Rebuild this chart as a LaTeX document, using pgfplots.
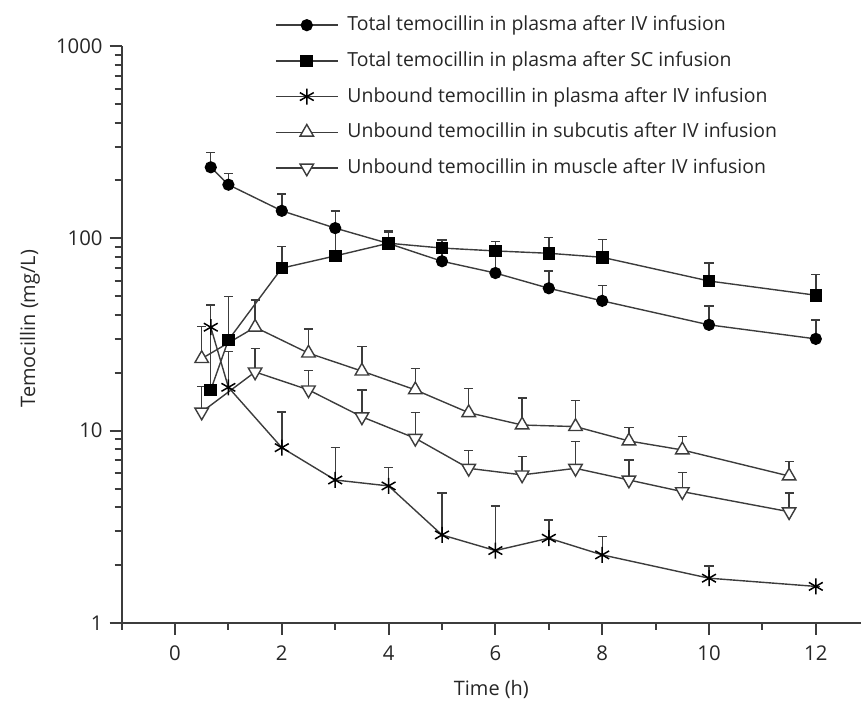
\documentclass[border=0pt]{standalone}
\usepackage{fontspec}
\setmainfont{Open Sans}
\usepackage{pgfplots}
\pgfplotsset{compat=1.18}
\usepackage{pgfplotstable}
\definecolor{ln}{HTML}{3C3C3C}
\definecolor{tx}{HTML}{262626}

\pgfplotstableread{
x y e
0.67 234 45
1 190 28
2 139 31
3 113 26
4 94 14
5 76 16
6 66 20
7 55 12.7
8 47.3 9.5
10 35.5 9
12 30 7.6
}\totiv
\pgfplotstableread{
x y e
0.67 16.3 28.7
1 29.6 20.2
2 70 21
3 81 29
4 94.3 15.7
5 89 9
6 86 10
7 83.6 17.4
8 79.7 18.8
10 60 14.3
12 50.6 14.4
}\totsc
\pgfplotstableread{
x y e
0.67 34.5 10.5
1 16.8 9
2 8.16 4.34
3 5.54 2.62
4 5.16 1.29
5 2.87 1.86
6 2.38 1.68
7 2.76 0.67
8 2.26 0.55
10 1.71 0.27
12 1.55 0
}\unbpl
\pgfplotstableread{
x y e
0.5 23.7 11
1.5 34.5 13.4
2.5 25.3 8.4
3.5 20.4 6.9
4.5 16.3 4.8
5.5 12.4 4.2
6.5 10.7 4.1
7.5 10.5 3.9
8.5 8.84 1.56
9.5 7.94 1.36
11.5 5.81 1.09
}\unbsc
\pgfplotstableread{
x y e
0.5 12.5 4.5
1.5 20.2 6.6
2.5 16.3 4.2
3.5 11.8 4.5
4.5 9.13 3.27
5.5 6.37 1.5
6.5 5.89 1.44
7.5 6.37 2.4
8.5 5.54 1.5
9.5 4.82 1.23
11.5 3.79 0.94
}\unbmu

\begin{document}
\begin{tikzpicture}
\useasboundingbox (-60.8bp,-43.5bp) rectangle (370.7bp,311.5bp);
\begin{axis}[
  at={(0,0)}, anchor=south west,
  scale only axis, width=369.8bp, height=288.5bp,
  xmin=-1, xmax=12.85, ymin=1, ymax=1000, ymode=log,
  axis lines*=left, axis line style={-, line width=1bp, ln},
  xtick={0,2,...,12}, minor xtick={-1,1,...,11},
  ytick={1,10,100,1000}, yticklabels={1,10,100,1000},
  tick align=outside, major tick length=6bp, minor tick length=3.5bp,
  tick style={line width=1bp, ln},
  /pgf/number format/assume math mode=true,
  tick label style={font=\fontsize{10.2}{12}\selectfont, text=tx},
  xticklabel style={yshift=-2bp},
  label style={font=\fontsize{10}{12}\selectfont, text=tx},
  xlabel={Time (h)}, ylabel={Temocillin (mg/L)},
  xlabel style={at={(axis description cs:0.5,-0.116)}, anchor=center},
  ylabel style={at={(axis description cs:-0.124,0.51)}, anchor=center},
  clip=false,
  legend style={at={(axis description cs:0.2070,1.0532)}, anchor=north west,
    draw=none, fill=none, inner sep=0pt, row sep=8.35bp,
    font=\fontsize{9.75}{12}\selectfont, text=tx,
    nodes={inner sep=0pt, text height=7.5bp, text depth=2bp},
    /tikz/every odd column/.append style={column sep=4.5bp}},
  legend cell align=left,
  legend image code/.code={\draw[mark repeat=2,mark phase=2] plot coordinates {(0bp,0bp) (15.5bp,0bp) (31bp,0bp)};},
  errs/.style={error bars/.cd, y dir=plus, y explicit,
    error bar style={line width=0.7bp, ln},
    error mark options={rotate=90, mark size=2.3bp, line width=0.7bp, ln}},
]
\addplot[ln, line width=0.7bp, mark=*, mark size=2.7bp, mark options={fill=black, draw=black}, errs]
  table[x=x, y=y, y error=e]{\totiv};
\addlegendentry{Total temocillin in plasma after IV infusion}
\addplot[ln, line width=0.7bp, mark=square*, mark size=2.8bp, mark options={fill=black, draw=black}, errs]
  table[x=x, y=y, y error=e]{\totsc};
\addlegendentry{Total temocillin in plasma after SC infusion}
\addplot[ln, line width=0.7bp, mark=asterisk, mark size=4bp, mark options={draw=black, line width=0.75bp}, errs]
  table[x=x, y=y, y error=e]{\unbpl};
\addlegendentry{Unbound temocillin in plasma after IV infusion}
\addplot[ln, line width=0.7bp, mark=triangle*, mark size=3.9bp, mark options={fill=white, draw=ln, line width=0.7bp}, errs]
  table[x=x, y=y, y error=e]{\unbsc};
\addlegendentry{Unbound temocillin in subcutis after IV infusion}
\addplot[ln, line width=0.7bp, mark=triangle*, mark size=3.9bp, mark options={fill=white, draw=ln, line width=0.7bp, rotate=180}, errs]
  table[x=x, y=y, y error=e]{\unbmu};
\addlegendentry{Unbound temocillin in muscle after IV infusion}
\end{axis}
\end{tikzpicture}
\end{document}
